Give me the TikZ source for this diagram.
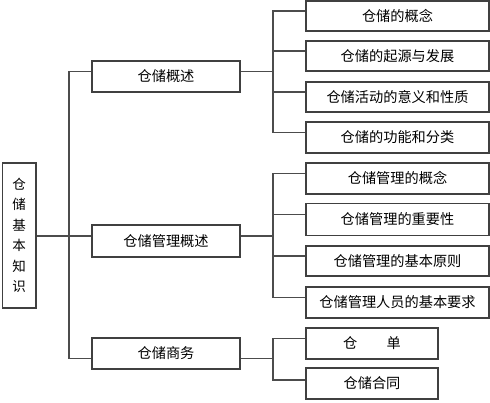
\documentclass[tikz,border=0pt]{standalone}
\usepackage{fontspec}
\setmainfont{Noto Sans CJK SC}
\begin{document}
\begin{tikzpicture}[x=1pt,y=-1pt,
  box/.style={draw=black!75,line width=1.1pt,fill=white,inner sep=0pt,font=\fontsize{14.2}{16}\selectfont},
  conn/.style={draw=black!70,line width=1.1pt}]
\useasboundingbox (0,0) rectangle (490,402);
% root
\node[box,minimum width=33.5pt,minimum height=145pt,align=center,font=\fontsize{13.5}{20.5}\selectfont] (root) at (19.25,235.5) {仓\\储\\基\\本\\知\\识};
% level 1
\node[box,minimum width=148pt,minimum height=31pt] (b1) at (166,76.5) {仓储概述};
\node[box,minimum width=148pt,minimum height=32pt] (b2) at (166,241) {仓储管理概述};
\node[box,minimum width=148pt,minimum height=31pt] (b3) at (166,353.5) {仓储商务};
% leaves
\node[box,minimum width=183pt,minimum height=30pt] (l1) at (397.5,16) {仓储的概念};
\node[box,minimum width=183pt,minimum height=30pt] (l2) at (397.5,56) {仓储的起源与发展};
\node[box,minimum width=183pt,minimum height=30pt] (l3) at (397.5,97) {仓储活动的意义和性质};
\node[box,minimum width=183pt,minimum height=31pt] (l4) at (397.5,137.5) {仓储的功能和分类};
\node[box,minimum width=183pt,minimum height=31pt] (l5) at (397.5,178.5) {仓储管理的概念};
\node[box,minimum width=183pt,minimum height=32pt] (l6) at (397.5,219.5) {仓储管理的重要性};
\node[box,minimum width=183pt,minimum height=30pt] (l7) at (397.5,261) {仓储管理的基本原则};
\node[box,minimum width=183pt,minimum height=31pt] (l8) at (397.5,302.5) {仓储管理人员的基本要求};
\node[box,minimum width=132pt,minimum height=31pt] (l9) at (372,343.5) {仓\hspace{2.05em}单};
\node[box,minimum width=132pt,minimum height=31pt] (l10) at (372,383.5) {仓储合同};
% trunk coordinates
\coordinate (t) at (69,0);
\coordinate (u) at (273,0);
\path ([yshift=5pt]b1.west) coordinate (b1in)
      ([yshift=5pt]b2.west) coordinate (b2in)
      ([yshift=-5pt]b3.west) coordinate (b3in)
      ([yshift=5pt]b1.east) coordinate (b1out)
      ([yshift=5pt]b2.east) coordinate (b2out)
      ([yshift=-5pt]b3.east) coordinate (b3out);
\foreach \n in {1,...,8}{\path ([yshift=5pt]l\n.west) coordinate (l\n in);}
\path ([yshift=5pt]l9.west) coordinate (l9in) ([yshift=3.5pt]l10.west) coordinate (l10in);
% left connectors
\draw[conn] (root.east |- b2in) -- (b2in);
\draw[conn] (b1in) -- (b1in -| t) -- (b3in -| t) -- (b3in);
% group 1
\draw[conn] (b1out) -- (b1out -| u);
\draw[conn] (l1in) -- (l1in -| u) -- (l4in -| u) -- (l4in);
\draw[conn] (l2in -| u) -- (l2in);
\draw[conn] (l3in -| u) -- (l3in);
% group 2
\draw[conn] (b2out) -- (b2out -| u);
\draw[conn] (l5in) -- (l5in -| u) -- (l8in -| u) -- (l8in);
\draw[conn] (l6in -| u) -- (l6in);
\draw[conn] (l7in -| u) -- (l7in);
% group 3
\draw[conn] (b3out) -- (b3out -| u);
\draw[conn] (l9in) -- (l9in -| u) -- (l10in -| u) -- (l10in);
\end{tikzpicture}
\end{document}
